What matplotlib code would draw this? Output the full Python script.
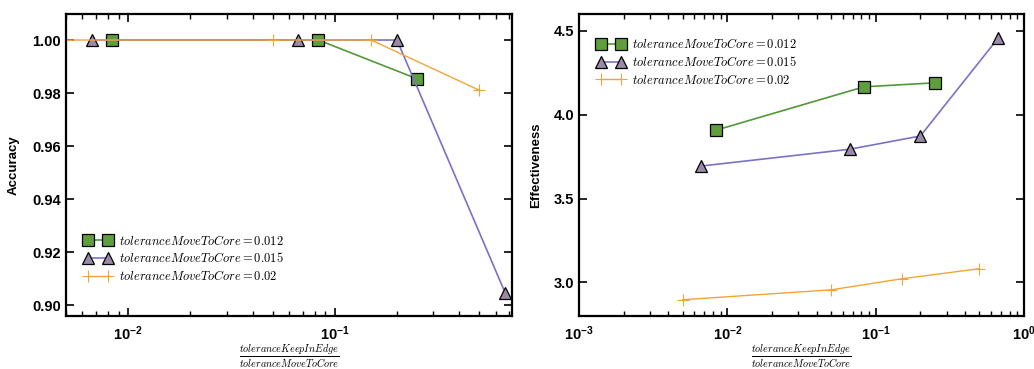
import matplotlib
matplotlib.use("Agg")
import matplotlib.pyplot as plt
from matplotlib.ticker import FuncFormatter, LogLocator, FixedLocator
from matplotlib.font_manager import FontProperties
import numpy as np

plt.rcParams["font.family"] = ["Liberation Sans", "DejaVu Sans"]
plt.rcParams["mathtext.fontset"] = "custom"
plt.rcParams["mathtext.bf"] = "Liberation Sans:bold"
plt.rcParams["mathtext.rm"] = "Liberation Sans:bold"

# Accuracy (links) - x = toleranceKeepInEdge / toleranceMoveToCore
acc_x_012 = [0.00833, 0.0833, 0.25]
acc_y_012 = [1.0, 1.0, 0.9854]
acc_x_015 = [0.00667, 0.0667, 0.2, 0.667]
acc_y_015 = [1.0, 1.0, 1.0, 0.9048]
acc_x_02 = [0.005, 0.05, 0.15, 0.5]
acc_y_02 = [1.0, 1.0, 1.0, 0.9811]

# Effectiveness (rechts)
eff_x_012 = [0.00833, 0.0833, 0.25]
eff_y_012 = [3.907, 4.166, 4.19]
eff_x_015 = [0.00667, 0.0667, 0.2, 0.667]
eff_y_015 = [3.694, 3.794, 3.873, 4.455]
eff_x_02 = [0.005, 0.05, 0.15, 0.5]
eff_y_02 = [2.897, 2.956, 3.022, 3.082]

labels = [r"$toleranceMoveToCore = 0.012$",
          r"$toleranceMoveToCore = 0.015$",
          r"$toleranceMoveToCore = 0.02$"]

GREEN_LINE = "#4f9a36"
GREEN_FILL = "#5e9e3c"
PURP_LINE = "#7a72c4"
PURP_FILL = "#9a8aa8"
ORANGE = "#f2a43a"

tick_font = FontProperties(family="Liberation Sans", weight="bold", size=10.5)
leg_font = FontProperties(family="DejaVu Serif", size=9, math_fontfamily="cm")


def log_fmt(v, pos):
    e = int(round(np.log10(v)))
    return r"$\mathbf{10^{%d}}$" % e


def draw(ax, xs, ys):
    s1, s2, s3 = xs
    y1, y2, y3 = ys
    ax.plot(s1, y1, color=GREEN_LINE, lw=1.2, marker="s", ms=8.3,
            mfc=GREEN_FILL, mec="black", mew=0.9, label=labels[0])
    ax.plot(s2, y2, color=PURP_LINE, lw=1.2, marker="^", ms=9.3,
            mfc=PURP_FILL, mec="black", mew=0.9, label=labels[1])
    ax.plot(s3, y3, color=ORANGE, lw=1.0, marker="+", ms=9,
            mec=ORANGE, mew=0.8, label=labels[2])
    ax.set_xscale("log")
    ax.xaxis.set_major_locator(LogLocator(base=10))
    ax.xaxis.set_minor_locator(LogLocator(base=10, subs=np.arange(2, 10)))
    ax.xaxis.set_major_formatter(FuncFormatter(log_fmt))
    ax.tick_params(which="both", direction="in", top=True, right=True)
    ax.tick_params(which="major", length=6, width=1.2)
    ax.tick_params(which="minor", length=3.5, width=1.0)
    ax.tick_params(axis="x", which="major", pad=6)
    for sp in ax.spines.values():
        sp.set_linewidth(1.6)
    ax.set_xlabel(r"$\frac{toleranceKeepInEdge}{toleranceMoveToCore}$",
                  fontsize=10.5, math_fontfamily="cm")
    ax.xaxis.set_label_coords(0.5, -0.088)


fig = plt.figure(figsize=(10.34, 3.69), dpi=100)
ax1 = fig.add_axes([0.0638, 0.1436, 0.4313, 0.8184])
ax2 = fig.add_axes([0.560, 0.1436, 0.4304, 0.8184])

draw(ax1, [acc_x_012, acc_x_015, acc_x_02], [acc_y_012, acc_y_015, acc_y_02])
ax1.set_xlim(0.005, 0.72)
ax1.set_ylim(0.896, 1.0098)
ax1.yaxis.set_major_locator(FixedLocator([0.90, 0.92, 0.94, 0.96, 0.98, 1.00]))
ax1.yaxis.set_major_formatter(FuncFormatter(lambda v, p: "%.2f" % v))
ax1.set_ylabel("Accuracy", fontsize=9.5, fontweight="bold", labelpad=9)
ax1.legend(loc="lower left", bbox_to_anchor=(0.03, 0.092), frameon=False,
           prop=leg_font, numpoints=2, handlelength=2.2, handletextpad=0.6,
           labelspacing=0.3, borderaxespad=0)

draw(ax2, [eff_x_012, eff_x_015, eff_x_02], [eff_y_012, eff_y_015, eff_y_02])
ax2.set_xlim(1e-3, 1.0)
ax2.set_ylim(2.8, 4.6)
ax2.yaxis.set_major_locator(FixedLocator([3.0, 3.5, 4.0, 4.5]))
ax2.yaxis.set_major_formatter(FuncFormatter(lambda v, p: "%.1f" % v))
ax2.set_ylabel("Effectiveness", fontsize=9.5, fontweight="bold", labelpad=8)
ax2.legend(loc="upper left", bbox_to_anchor=(0.03, 0.94), frameon=False,
           prop=leg_font, numpoints=2, handlelength=2.2, handletextpad=0.6,
           labelspacing=0.3, borderaxespad=0)

for ax in (ax1, ax2):
    for lab in ax.get_xticklabels() + ax.get_yticklabels():
        lab.set_fontproperties(tick_font)

fig.savefig("out.png", dpi=100)
